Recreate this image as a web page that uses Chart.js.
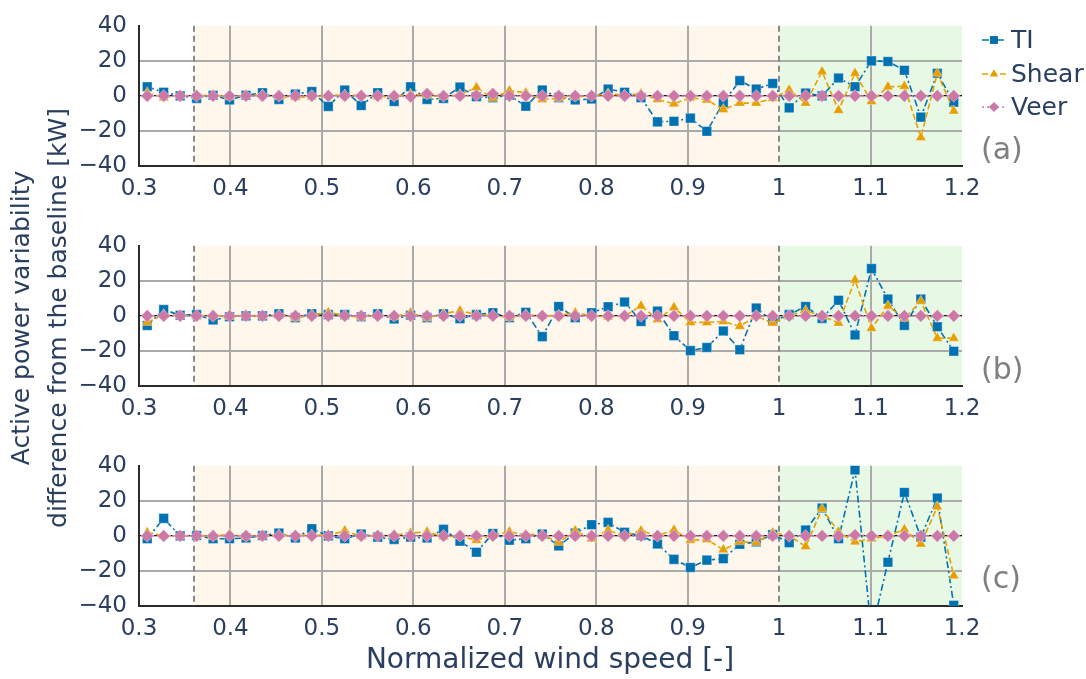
<!DOCTYPE html>
<html>
<head>
<meta charset="utf-8">
<script src="https://cdn.jsdelivr.net/npm/chart.js@4.4.1/dist/chart.umd.min.js"></script>
<style>
  body { margin: 0; background: #fff; font-family: 'DejaVu Sans', sans-serif; color: #2a3f5f; }
  #wrap { position: relative; width: 1086px; height: 679px; overflow: hidden; }
  canvas { position: absolute; left: 0; }
  .ytitle {
    position: absolute; left: -250px; top: 280px; width: 580px; height: 76px;
    line-height: 37px; font-size: 25px; text-align: center; transform: rotate(-90deg);
  }
  .xtitle { position: absolute; left: 250px; width: 600px; top: 642px; text-align: center; font-size: 28px; }
  .panel { position: absolute; left: 981px; font-size: 30px; color: #7f7f7f; }
</style>
</head>
<body>
<div id="wrap">
  <canvas id="chartA" width="1086" height="206" style="top:0px"></canvas>
  <canvas id="chartB" width="1086" height="206" style="top:220px"></canvas>
  <canvas id="chartC" width="1086" height="206" style="top:440px"></canvas>
  <div class="ytitle">Active power variability<br>difference from the baseline [kW]</div>
  <div class="xtitle">Normalized wind speed [-]</div>
  <div class="panel" style="top:131px">(a)</div>
  <div class="panel" style="top:351px">(b)</div>
  <div class="panel" style="top:560px">(c)</div>
</div>
<script>
// vitesse du vent normalisée (centres des classes)
const windSpeed = [0.309, 0.327, 0.345, 0.363, 0.381, 0.399, 0.417, 0.435, 0.453, 0.471,
  0.489, 0.507, 0.525, 0.543, 0.561, 0.579, 0.597, 0.615, 0.633, 0.651,
  0.669, 0.687, 0.705, 0.723, 0.741, 0.759, 0.777, 0.795, 0.813, 0.831,
  0.849, 0.867, 0.885, 0.903, 0.921, 0.939, 0.957, 0.975, 0.993, 1.011,
  1.029, 1.047, 1.065, 1.083, 1.101, 1.119, 1.137, 1.155, 1.173, 1.191];

// (a)
const tiA = [5.2, 2.1, 0, -1.4, 0.4, -2.3, 0.4, 1.8, -2, 1,
  2.5, -6, 3.4, -5.5, 1.8, -3.2, 5.2, -2, -1.4, 5,
  -0.5, -1, 0.4, -5.9, 3.4, -1, -2.3, -1.8, 3.9, 2.1,
  -1, -14.8, -14.5, -12.7, -20.2, -3.8, 8.7, 3.9, 7.1, -6.8,
  1.6, 0, 10.2, 5.2, 20, 19.6, 14.6, -12.1, 12.9, -3.6];
const shearA = [1.8, -1, 0.3, 0, 0.5, -0.5, 0.3, 0.5, -0.3, -0.8,
  -0.5, 0.3, 0.5, 0.3, -0.5, -0.3, 1, 0.3, -0.3, 0.7,
  4.8, -1.4, 3, 1.8, -2, -1.4, -0.5, 0, 1.2, 0.4,
  1.2, -2, -4.5, -1, -2.3, -7.7, -4.1, -4.1, -1.4, 3.4,
  -4.1, 13.8, -8.2, 12.9, -3.2, 5.2, 5.5, -23.7, 12.9, -8.6];
const veerA = [0, 0, 0, 0, 0, 0, 0, 0, 0, 0,
  0, 0, 0, 0, 0, 0, -0.5, 1.2, 0, 0,
  0.3, 1.2, 0, 0, 0, 0, 0, 0, 0, 0,
  0, 0, 0, 0, 0, 0, 0, 0, 0, 0,
  0, 0, 0, 0, 0, 0, 0, 0, 0, 0];

// (b)
const tiB = [-5.5, 3.6, 0.4, 0.7, -2.3, -0.5, 0, 0, 1.2, -1,
  1.2, 0.7, 0.7, -0.5, 1.2, -1.8, 0.4, -1, 1.2, -1.6,
  0.7, 1.8, -1, 2.1, -11.8, 5.4, -1, 1.8, 5.2, 7.9,
  -3.2, 2.7, -11.3, -19.8, -18, -8.6, -19.3, 4.5, -3, 0.7,
  5.4, -1.4, 8.9, -10.9, 27, 9.6, -5.4, 9.6, -6.2, -20.2];
const shearB = [-3.7, 0.7, 0.3, 0, 0.3, -0.3, 0.3, 0, 0.3, -1.2,
  0.5, 2, 0.3, -0.8, 0.5, -0.5, 1.8, -1.2, 1.2, 3,
  0.7, 0.3, -1, 0.7, 0, 0.3, 1.8, 0, -0.5, 0,
  5.7, -2, 4.8, -3.7, -3.7, -3.2, -5.9, 0, -4.1, 0,
  3, 0, -4.1, 20.5, -7.1, 5.7, -1.4, 8.4, -12.7, -12.7];
const veerB = [0, 0, 0, 0, 0, 0, 0, 0, 0, 0,
  0, 0, 0, 0, 0, 0, 0, 0, 0, 0,
  0, 0, 0, 0, 0, 0, 0, 0, 0, 0,
  0, 0, 0, 0, 0, 0, 0, 0, 0, 0,
  0, 0, 0, 0, 0, 0, 0, 0, 0, 0];

// (c)
const tiC = [-1.6, 10, 0, 0.2, -1.6, -1.6, -1.2, 0.2, 1.6, -1.2,
  4.1, 0, -1.6, 1.1, -0.7, -2, -0.7, -1.2, 3.7, -3,
  -9.3, 1.4, -2.5, -1.6, 1.1, -5.7, 1.6, 6.4, 7.7, 2,
  0.2, -4.6, -13.4, -18, -13.8, -13, -4.8, -3.4, 0.8, -3.9,
  3.4, 15.9, -1.6, 37.7, -55, -15, 24.8, -0.7, 21.6, -39.6];
const shearC = [2, 0, 0, 0.3, -0.3, 1.1, -0.5, 0.3, 0.5, 0.3,
  0.5, 0.3, 2.9, -0.3, 0.3, 0.5, 1.6, 2.3, -0.5, 0,
  -2.5, 0.5, 2.3, 0.7, 0.7, -3.7, 2.9, -1.6, 3.2, 0,
  2.9, 0, 3.4, -2.5, -2.1, -7.9, -3.4, -3.7, 1.8, 0.3,
  -6.1, 15.4, 2.3, -3.4, -1.6, 0, 3.7, -4.6, 16.6, -22.7];
const veerC = [0, 0, 0, 0, 0, 0, 0, 0, 0, 0,
  0, 0, 0, 0, 0, 0, 0, 0, 0, 0,
  0, 0, 0, 0, 0, 0, 0, 0, 0, 0,
  0, 0, 0, 0, 0, 0, 0, 0, 0, 0,
  0, 0, 0, 0.5, 0, 0, 0, 0, 0, 0];

// zones (début de la zone partielle, vitesse nominale, fin)
const zoneStart = 0.36;
const zoneRated = 1.0;
const zoneEnd = 1.2;

const seriesNames = ['TI', 'Shear', 'Veer'];
const seriesColors = ['#0072b2', '#e69f00', '#cc79a7'];
const seriesMarkers = ['rect', 'triangle', 'rectRot'];
const seriesRadius = [6.8, 6, 6.3];
const seriesDash = [[7, 3, 2, 3], [6, 3], [2, 3]];

const textColor = '#2a3f5f';
const fontFamily = "'DejaVu Sans', sans-serif";

// fond coloré + lignes pointillées verticales
const zonePlugin = {
    id: 'zones',
    beforeDraw(chart) {
        const { ctx, chartArea: a, scales: { x } } = chart;
        const x0 = x.getPixelForValue(zoneStart);
        const x1 = x.getPixelForValue(zoneRated);
        const x2 = x.getPixelForValue(zoneEnd);
        ctx.save();
        ctx.fillStyle = '#fff7ec';
        ctx.fillRect(x0, a.top, x1 - x0, a.bottom - a.top);
        ctx.fillStyle = '#e7f9e4';
        ctx.fillRect(x1, a.top, x2 - x1, a.bottom - a.top);
        ctx.restore();
    },
    beforeDatasetsDraw(chart) {
        const { ctx, chartArea: a, scales: { x } } = chart;
        ctx.save();
        ctx.strokeStyle = '#8a8a8a';
        ctx.lineWidth = 2;
        ctx.setLineDash([6, 4]);
        [zoneStart, zoneRated].forEach(v => {
            const px = Math.round(x.getPixelForValue(v));
            ctx.beginPath();
            ctx.moveTo(px, a.top);
            ctx.lineTo(px, a.bottom);
            ctx.stroke();
        });
        ctx.restore();
    }
};

// légende à droite du premier graphique
const legendPlugin = {
    id: 'sideLegend',
    afterDraw(chart) {
        const ctx = chart.ctx;
        const rowsY = [40, 74, 107];
        ctx.save();
        seriesNames.forEach((name, i) => {
            const y = rowsY[i];
            ctx.strokeStyle = seriesColors[i];
            ctx.lineWidth = 1.5;
            ctx.setLineDash(seriesDash[i]);
            ctx.beginPath();
            ctx.moveTo(982, y);
            ctx.lineTo(1006, y);
            ctx.stroke();
            ctx.setLineDash([]);
            ctx.fillStyle = seriesColors[i];
            ctx.strokeStyle = seriesColors[i];
            Chart.helpers.drawPoint(ctx, { pointStyle: seriesMarkers[i], radius: seriesRadius[i] - 1.2, borderWidth: 0, rotation: 0 }, 994, y);
            ctx.fillStyle = textColor;
            ctx.font = '25px ' + fontFamily;
            ctx.textBaseline = 'middle';
            ctx.fillText(name, 1011, y + 1);
        });
        ctx.restore();
    }
};

function buildDatasets(ti, shear, veer) {
    return [ti, shear, veer].map((values, i) => ({
        label: seriesNames[i],
        data: windSpeed.map((w, k) => ({ x: w, y: values[k] })),
        borderColor: seriesColors[i],
        backgroundColor: seriesColors[i],
        borderWidth: 1.6,
        borderDash: seriesDash[i],
        pointStyle: seriesMarkers[i],
        pointRadius: seriesRadius[i],
        pointBackgroundColor: seriesColors[i],
        pointBorderColor: 'rgba(255,255,255,0.35)',
        pointBorderWidth: 1,
        tension: 0,
        order: 3 - i
    }));
}

function createChart(id, ti, shear, veer, extraPlugins) {
    const ctx = document.getElementById(id).getContext('2d');
    return new Chart(ctx, {
        type: 'line',
        data: { datasets: buildDatasets(ti, shear, veer) },
        options: {
            responsive: false,
            animation: false,
            devicePixelRatio: 1,
            layout: { padding: { top: 16, right: 124, bottom: 0, left: 0 } },
            plugins: { legend: { display: false }, tooltip: { enabled: false } },
            scales: {
                x: {
                    type: 'linear',
                    min: 0.3,
                    max: 1.2,
                    afterFit: s => { s.height = 40; },
                    ticks: {
                        stepSize: 0.1,
                        padding: 9,
                        color: textColor,
                        font: { family: fontFamily, size: 23 },
                        callback: v => String(Math.round(v * 10) / 10)
                    },
                    grid: {
                        drawTicks: false,
                        lineWidth: 2,
                        color: c => {
                            const v = c.tick.value;
                            if (Math.abs(v - 0.3) < 1e-6 || Math.abs(v - 1) < 1e-6 || Math.abs(v - 1.2) < 1e-6) return 'rgba(0,0,0,0)';
                            return '#aaaaaa';
                        }
                    },
                    border: { display: true, color: '#2b2b2b', width: 2 }
                },
                y: {
                    min: -40,
                    max: 40,
                    afterFit: s => { s.width = 139; },
                    ticks: {
                        stepSize: 20,
                        padding: 12,
                        color: textColor,
                        font: { family: fontFamily, size: 23 },
                        callback: v => String(v).replace('-', '\u2212')
                    },
                    grid: {
                        drawTicks: false,
                        lineWidth: c => (c.tick.value === 0 ? 1.3 : 2),
                        color: c => {
                            const v = c.tick.value;
                            if (v === 0) return '#111111';
                            if (Math.abs(v) === 40) return 'rgba(0,0,0,0)';
                            return '#aaaaaa';
                        }
                    },
                    border: { display: true, color: '#2b2b2b', width: 2 }
                }
            }
        },
        plugins: [zonePlugin].concat(extraPlugins || [])
    });
}

createChart('chartA', tiA, shearA, veerA, [legendPlugin]);
createChart('chartB', tiB, shearB, veerB);
createChart('chartC', tiC, shearC, veerC);
</script>
</body>
</html>
